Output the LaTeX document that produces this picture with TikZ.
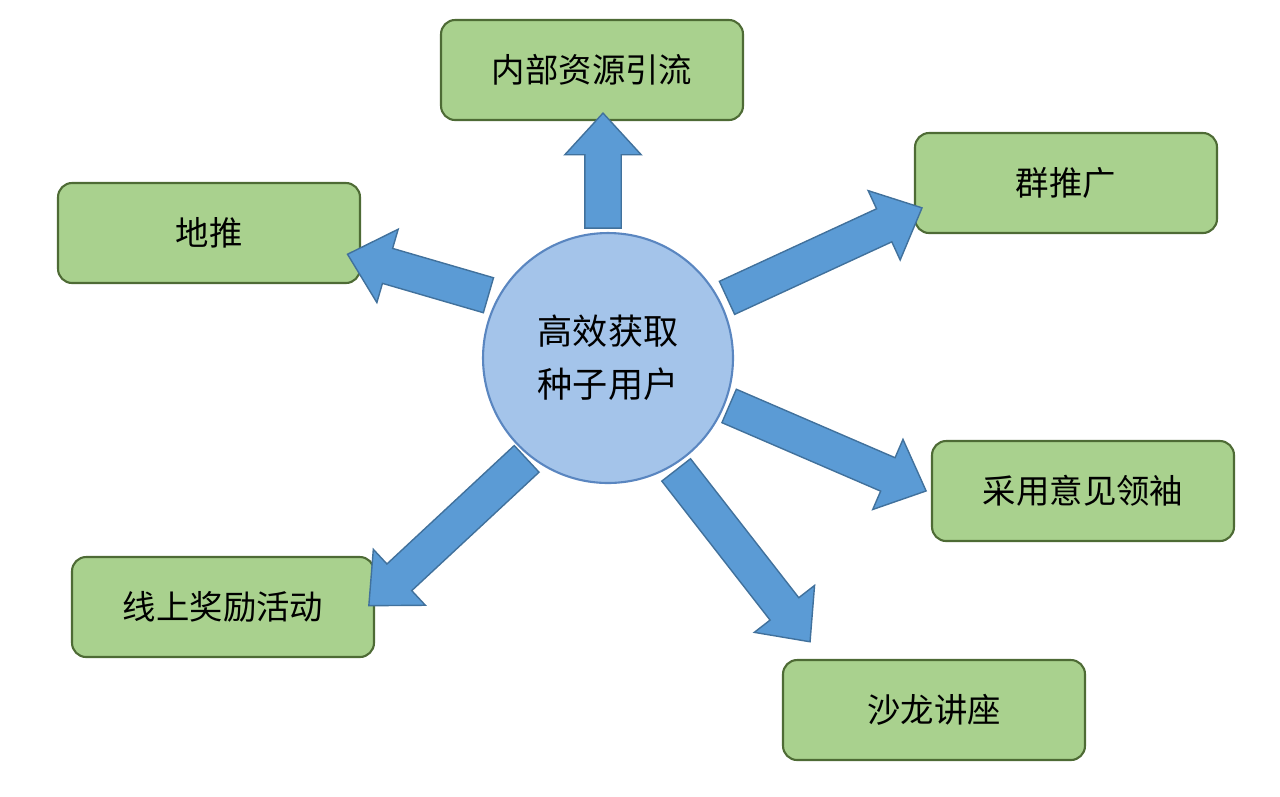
\documentclass[tikz,border=0pt]{standalone}
\usepackage{fontspec}
\setmainfont{Noto Sans CJK SC}
\usepackage{tikz}
\usetikzlibrary{shapes.arrows,calc,positioning}

\definecolor{boxgreen}{HTML}{A9D18E}
\definecolor{boxedge}{HTML}{4E6B35}
\definecolor{arrowblue}{HTML}{5B9BD5}
\definecolor{arrowedge}{HTML}{41719C}
\definecolor{seedblue}{HTML}{A4C4EA}
\definecolor{seededge}{HTML}{5A86C0}

\tikzset{
  goalbox/.style={draw=boxedge,line width=1.2pt,fill=boxgreen,
    rounded corners=8pt,minimum width=6.04cm,minimum height=2cm,
    font=\fontsize{19}{22}\selectfont},
  fatarrow/.style={single arrow,draw=arrowedge,line width=0.8pt,
    fill=arrowblue,inner sep=0.35cm,single arrow head extend=0.4cm,
    single arrow tip angle=85,inner xsep=0pt,sloped,allow upside down}
}
\newcommand{\fatlink}[3]{%
  \path let \p1=($(#2)-(#1)$), \n1={veclen(\x1,\y1)} in
    (#1) -- (#2) node[midway,fatarrow,minimum height=\n1] (#3) {};}

\begin{document}
\begin{tikzpicture}[x=0.02cm,y=-0.02cm]
\useasboundingbox (0,0) rectangle (1280,796);

% Goals
\node[goalbox] (inner) at (592,70) {内部资源引流};
\node[goalbox] (group) at (1066,183) {群推广};
\node[goalbox] (street) at (209,233) {地推};
\node[goalbox] (kol) at (1083,491) {采用意见领袖};
\node[goalbox] (online) at (223,607) {线上奖励活动};
\node[goalbox] (salon) at (934,710) {沙龙讲座};

% Arrow ends
\coordinate (a1) at (603,238); \coordinate (b1) at (603,123);
\coordinate (a2) at (718,302); \coordinate (b2) at (913,212);
\coordinate (a3) at (498,298); \coordinate (b3) at (357,257);
\coordinate (a4) at (720,402); \coordinate (b4) at (917,487);
\coordinate (a5) at (534,452); \coordinate (b5) at (376,599);
\coordinate (a6) at (670,462); \coordinate (b6) at (804,634);

\fatlink{a1}{b1}{arr1}
\fatlink{a2}{b2}{arr2}
\fatlink{a3}{b3}{arr3}
\fatlink{a4}{b4}{arr4}
\fatlink{a5}{b5}{arr5}
\fatlink{a6}{b6}{arr6}

% Center
\node[circle,draw=seededge,line width=1.2pt,fill=seedblue,
  minimum size=5cm,align=center,font=\fontsize{20}{30}\selectfont] (seed) at (608,358)
  {高效获取\\种子用户};
\end{tikzpicture}
\end{document}
